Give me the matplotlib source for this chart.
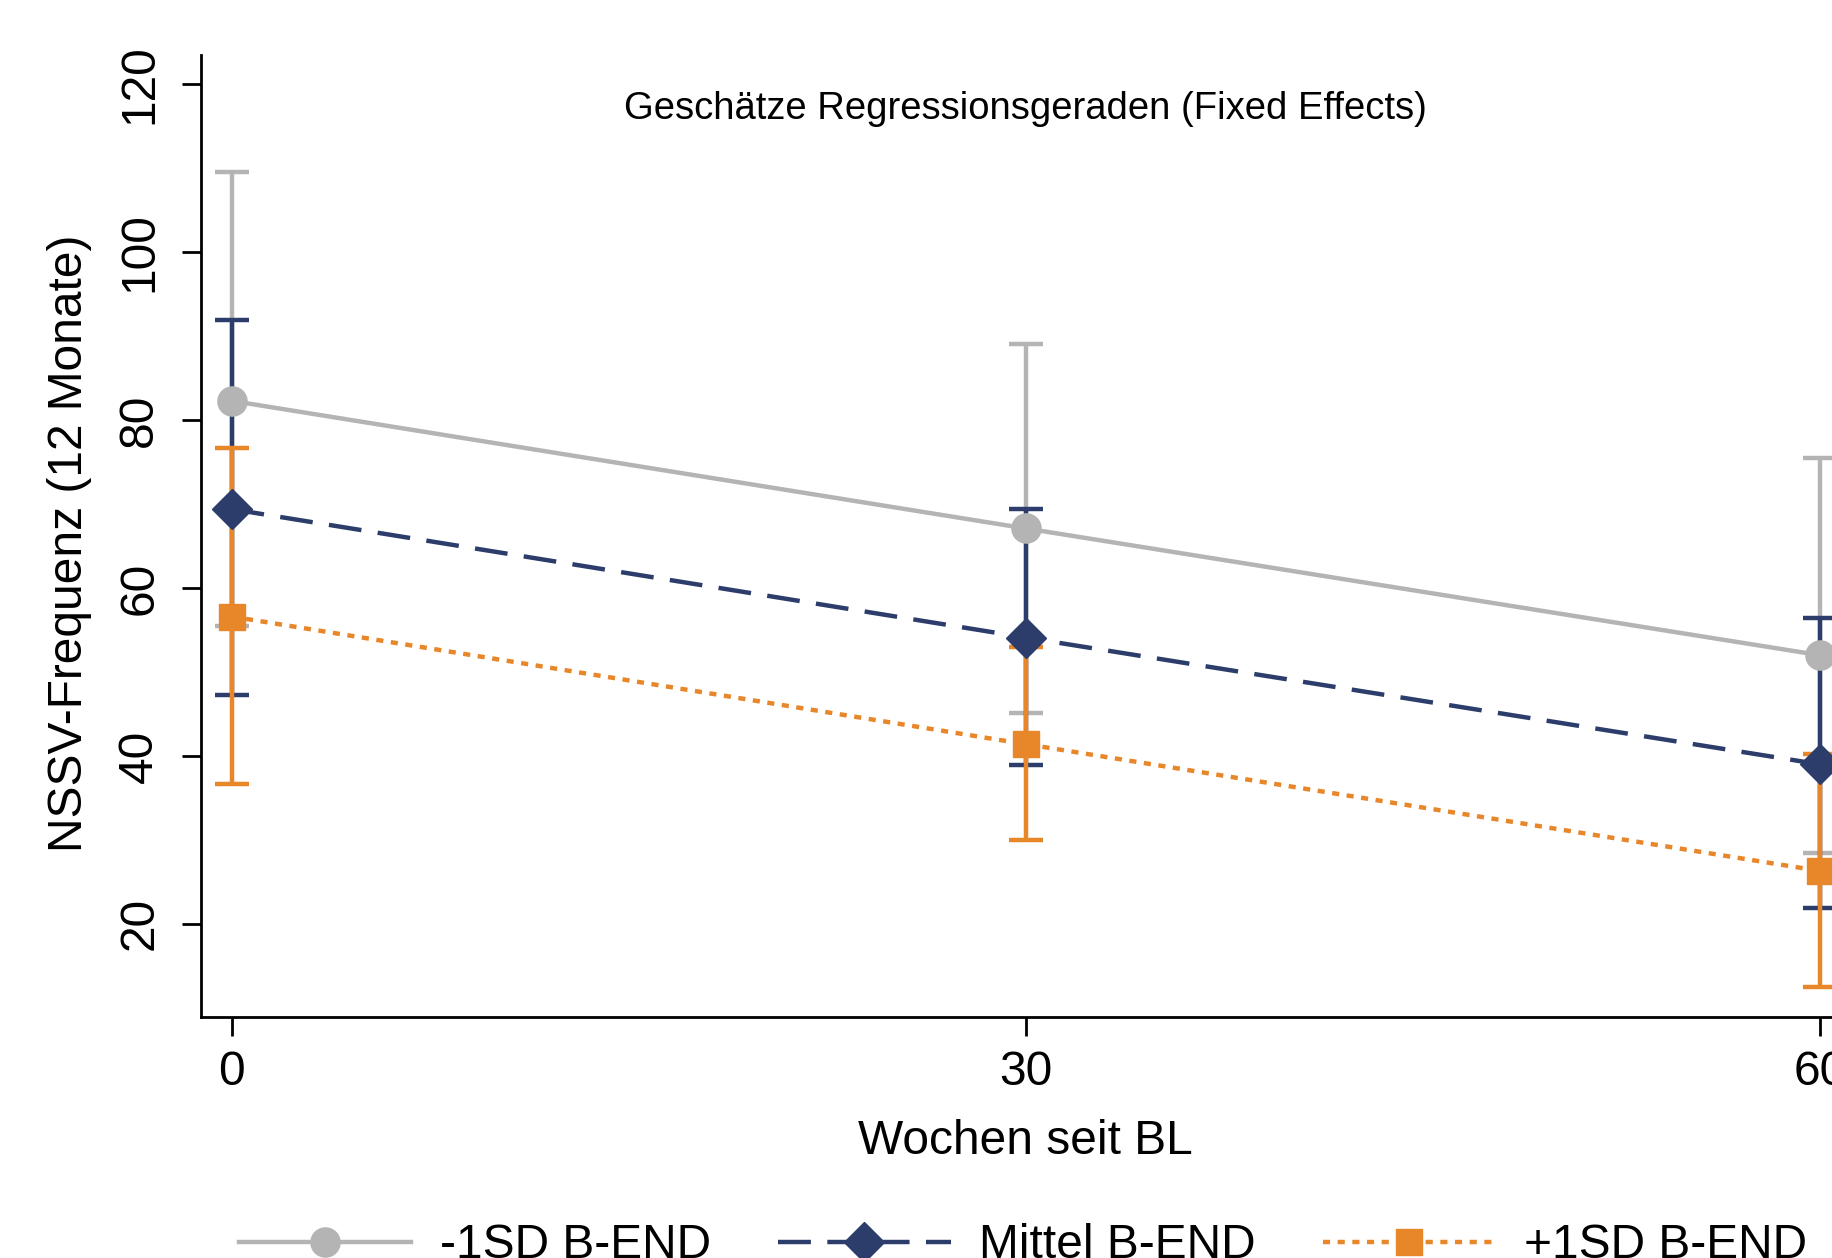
import matplotlib.pyplot as plt
import numpy as np

plt.rcParams['font.family'] = ['Liberation Sans', 'DejaVu Sans']

# Wochen seit Baseline
weeks = [0, 30, 60]

# geschaetzte Werte und 95%-KI je Gruppe
low_est = [82.3, 67.1, 52.0]
low_lo = [55.5, 45.1, 28.4]
low_hi = [109.6, 89.1, 75.5]

mid_est = [69.4, 54.1, 39.0]
mid_lo = [47.2, 38.9, 21.9]
mid_hi = [91.9, 69.4, 56.4]

high_est = [56.6, 41.4, 26.3]
high_lo = [36.6, 30.0, 12.5]
high_hi = [76.7, 53.0, 40.2]

labels = ['-1SD B-END', 'Mittel B-END', '+1SD B-END']
colors = ['#b4b4b4', '#2c3d6b', '#e8862a']
markers = ['o', 'D', 's']
styles = ['-', (0, (7.4, 3.7)), (0, (1.6, 1.7))]
msizes = [21, 20, 19]

series = [
    (low_est, low_lo, low_hi),
    (mid_est, mid_lo, mid_hi),
    (high_est, high_lo, high_hi),
]

fig = plt.figure(figsize=(18.33, 12.58), dpi=100)
# axes runs past the right edge like in the (cropped) original
ax = fig.add_axes([0.1097, 0.1916, 0.8997, 0.7647])

# error bars first
for (est, lo, hi), c in zip(series, colors):
    est = np.array(est)
    yerr = [est - np.array(lo), np.array(hi) - est]
    ax.errorbar(weeks, est, yerr=yerr, fmt='none', ecolor=c, elinewidth=3.2,
                capsize=12, capthick=3.2, zorder=2)

handles = []
for (est, lo, hi), c, m, ls, ms, lab in zip(series, colors, markers, styles, msizes, labels):
    ln, = ax.plot(weeks, est, color=c, linestyle=ls, linewidth=3.2, marker=m,
                  markersize=ms, markerfacecolor=c, markeredgecolor=c, zorder=3, label=lab)
    handles.append(ln)

ax.set_xlim(-1.15, 61.15)
ax.set_ylim(8.9, 123.5)
ax.set_xticks([0, 30, 60])
ax.set_yticks([20, 40, 60, 80, 100, 120])
ax.tick_params(axis='both', labelsize=34.5, length=14, width=2, color='black')
ax.tick_params(axis='y', pad=14)
ax.tick_params(axis='x', pad=10)
for lab in ax.get_yticklabels():
    lab.set_rotation(90)
    lab.set_va('center')

ax.spines['top'].set_visible(False)
ax.spines['right'].set_visible(False)
ax.spines['left'].set_linewidth(2)
ax.spines['bottom'].set_linewidth(2)

ax.text(0.5, 0.944, 'Geschätze Regressionsgeraden (Fixed Effects)', transform=ax.transAxes,
        ha='center', va='center', fontsize=27.5)

fig.text(70 / 1833, 1 - 543 / 1258, 'NSSV-Frequenz (12 Monate)', rotation=90,
         ha='center', va='center', fontsize=34.5)
fig.text(1025 / 1833, 1 - 1142 / 1258, 'Wochen seit BL', ha='center', va='center', fontsize=34.5)

fig.legend(handles=handles, labels=labels, loc='center', ncol=3,
           bbox_to_anchor=(1023 / 1833, 1 - 1246 / 1258), frameon=False,
           fontsize=34.5, handlelength=3.6, handletextpad=0.6, columnspacing=1.4,
           borderpad=0)

fig.savefig('out.png', dpi=100)
